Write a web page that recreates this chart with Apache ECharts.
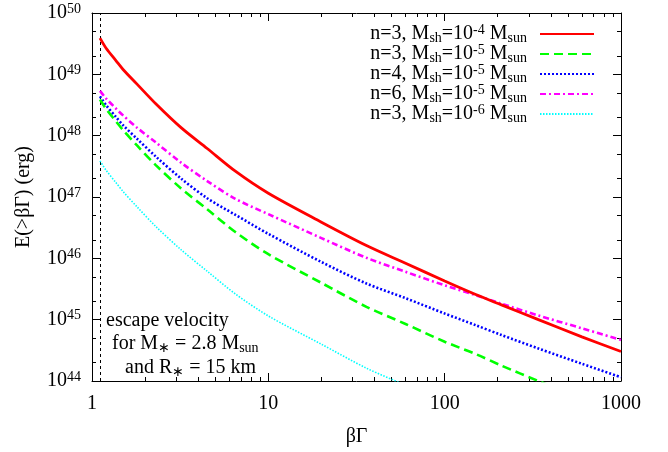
<!DOCTYPE html>
<html><head><meta charset="utf-8">
<script src="https://cdn.jsdelivr.net/npm/echarts@6.0.0/dist/echarts.min.js"></script>
<style>html,body{margin:0;padding:0;background:#fff}#c{width:668px;height:452px}</style>
</head><body><div id="c"></div>
<script>
// beta*Gamma sample points (x)
const betaGamma = [1.11, 1.2, 1.37, 1.5, 1.8, 2.3, 3.2, 4.5, 6.5, 10, 20, 36, 60, 100, 150, 210, 340, 600, 1000];
// E(>betaGamma) in erg
const E_n3_m4 = [3.89e49, 2.69e49, 1.66e49, 1.20e49, 6.92e48, 3.31e48, 1.35e48, 6.17e47, 2.63e47, 1.15e47, 3.89e46, 1.62e46, 8.32e45, 4.27e45, 2.57e45, 1.74e45, 1.00e45, 5.25e44, 3.02e44];
const E_n3_m5 = [3.89e48, 2.75e48, 1.70e48, 1.23e48, 6.92e47, 3.31e47, 1.38e47, 6.31e46, 2.69e46, 1.17e46, 3.98e45, 1.62e45, 8.51e44, 4.37e44, 2.75e44, 1.78e44, 1.00e44, 5.25e43, 3.02e43];
const E_n4_m5 = [4.37e48, 3.16e48, 2.00e48, 1.48e48, 8.91e47, 4.57e47, 2.00e47, 9.55e46, 5.13e46, 2.51e46, 8.71e45, 3.89e45, 2.24e45, 1.26e45, 8.13e44, 5.62e44, 3.39e44, 1.91e44, 1.15e44];
const E_n6_m5 = [5.37e48, 4.07e48, 2.75e48, 2.14e48, 1.35e48, 7.76e47, 3.63e47, 1.82e47, 9.33e46, 5.25e46, 2.14e46, 1.02e46, 6.03e45, 3.63e45, 2.51e45, 1.82e45, 1.17e45, 7.24e44, 4.68e44];
const E_n3_m6 = [3.89e47, 2.75e47, 1.70e47, 1.23e47, 6.92e46, 3.31e46, 1.38e46, 6.17e45, 2.63e45, 1.15e45, 3.98e44, 1.62e44, 8.51e43, 4.37e43];

const escapeBetaGamma = 1.11;
const xMinorTicks = [2,3,4,5,6,7,8,9,20,30,40,50,60,70,80,90,200,300,400,500,600,700,800,900];
const yMinorTicks = [2e44,5e44,2e45,5e45,2e46,5e46,2e47,5e47,2e48,5e48,2e49,5e49];

const FONT = 'Liberation Serif';
const rich = {
  t:  {fontFamily: FONT, fontSize: 20, color: '#000', lineHeight: 22},
  sb: {fontFamily: FONT, fontSize: 14, color: '#000', verticalAlign: 'bottom', lineHeight: 9},
  sp: {fontFamily: FONT, fontSize: 14, color: '#000', verticalAlign: 'top', lineHeight: 9}
};
function legendName(n, exp) {
  return '{t|n=' + n + ', M}{sb|sh}{t|=10}{sp|' + exp + '}{t| M}{sb|sun}';
}
const names = [legendName(3,'-4'), legendName(3,'-5'), legendName(4,'-5'), legendName(6,'-5'), legendName(3,'-6')];
const valuesList = [E_n3_m4, E_n3_m5, E_n4_m5, E_n6_m5, E_n3_m6];
const colors = ['#ff0000', '#00ff00', '#0000ff', '#ff00ff', '#00ffff'];
const styles = [
  {width: 2.8, type: 'solid'},
  {width: 2.6, type: [9, 5]},
  {width: 2.6, type: [2, 2]},
  {width: 2.6, type: [6, 3, 2, 3]},
  {width: 1.6, type: [1.5, 1.5]}
];

const series = valuesList.map((vals, i) => {
  const s = {
    name: names[i], type: 'line', xAxisIndex: 0, yAxisIndex: 0,
    symbol: 'none', smooth: 0.3, clip: true,
    color: colors[i],
    lineStyle: {color: colors[i], width: styles[i].width, type: styles[i].type},
    data: vals.map((v, k) => [betaGamma[k], v]),
    z: 10 - i
  };
  if (i === 0) {
    s.markLine = {silent: true, symbol: ['none', 'none'], label: {show: false},
      lineStyle: {color: '#000', type: [3, 3], width: 1},
      data: [{xAxis: escapeBetaGamma}]};
  }
  return s;
});

const line = {show: true, onZero: false, lineStyle: {color: '#000', width: 1}};
function xAx(pos, minor) {
  return {type: 'log', logBase: 10, min: 1, max: 1000, interval: 1, position: pos,
    splitLine: {show: false},
    axisLine: minor ? {show: false} : line,
    axisTick: minor ? {show: true, inside: true, length: 4, customValues: xMinorTicks, lineStyle: {color: '#000'}}
                    : {show: true, inside: true, length: 8, lineStyle: {color: '#000'}},
    axisLabel: (pos === 'bottom' && !minor) ? {show: true, fontFamily: FONT, fontSize: 20, color: '#000', margin: 13,
      formatter: v => String(Math.round(v))} : {show: false}
  };
}
function yAx(pos, minor) {
  return {type: 'log', logBase: 10, min: 1e44, max: 1e50, interval: 1, position: pos,
    splitLine: {show: false},
    axisLine: minor ? {show: false} : line,
    axisTick: minor ? {show: true, inside: true, length: 4, customValues: yMinorTicks, lineStyle: {color: '#000'}}
                    : {show: true, inside: true, length: 8, lineStyle: {color: '#000'}},
    axisLabel: (pos === 'left' && !minor) ? {show: true, margin: 11,
      formatter: v => '{b|10}{e|' + Math.round(Math.log10(v)) + '}',
      rich: {b: {fontFamily: FONT, fontSize: 20, color: '#000', lineHeight: 22},
             e: {fontFamily: FONT, fontSize: 14, color: '#000', verticalAlign: 'top', lineHeight: 9}}} : {show: false}
  };
}
const xAxes = [xAx('bottom', false), xAx('bottom', true), xAx('top', false), xAx('top', true)];
xAxes[0].name = 'βΓ'; xAxes[0].nameLocation = 'middle'; xAxes[0].nameGap = 46;
xAxes[0].nameTextStyle = {fontFamily: FONT, fontSize: 20, color: '#000'};
const yAxes = [yAx('left', false), yAx('left', true), yAx('right', false), yAx('right', true)];
yAxes[0].name = 'E(>βΓ) (erg)'; yAxes[0].nameLocation = 'middle'; yAxes[0].nameGap = 58;
yAxes[0].nameTextStyle = {fontFamily: FONT, fontSize: 20, color: '#000'};

const chart = echarts.init(document.getElementById('c'), null, {renderer: 'canvas'});
chart.setOption({
  animation: false,
  backgroundColor: '#fff',
  grid: {left: 92, right: 47, top: 13, bottom: 68, containLabel: false},
  xAxis: xAxes,
  yAxis: yAxes,
  legend: {
    orient: 'vertical', right: 68, top: 18, align: 'right', itemGap: -2,
    itemWidth: 54, itemHeight: 10,
    data: names,
    itemStyle: {opacity: 0},
    textStyle: {rich: rich, padding: [0, 8, 0, 0]},
    formatter: n => n
  },
  graphic: [
    {type: 'text', left: 106, top: 311, style: {text: '{t|escape velocity}', rich: rich}},
    {type: 'text', left: 112, top: 334, style: {text: '{t|for M}{sb|∗}{t| = 2.8 M}{sb|sun}', rich: rich}},
    {type: 'text', left: 125, top: 358, style: {text: '{t|and R}{sb|∗}{t| = 15 km}', rich: rich}}
  ],
  series: series
});
</script>
</body></html>
